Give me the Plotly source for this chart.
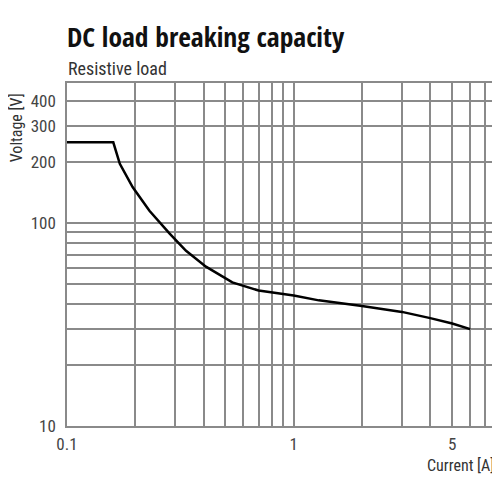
import plotly.graph_objects as go
import numpy as np

# curve
current = [0.1, 0.16, 0.171, 0.195, 0.231, 0.283, 0.335, 0.41, 0.536, 0.70, 1.0, 1.29, 2.0, 3.0, 4.0, 5.0, 6.0]
voltage = [250, 250, 196, 150, 115, 89, 73, 61, 51, 46.5, 44, 41.6, 39, 36.5, 34, 32, 30]

x_grid = [0.1, 0.2, 0.3, 0.4, 0.5, 0.6, 0.7, 0.8, 0.9, 1, 2, 3, 4, 5, 6, 7, 8]
x_labels = {0.1: "0.1", 1: "1", 5: "5"}
y_grid = [10, 20, 30, 40, 50, 60, 70, 80, 90, 100, 200, 300, 400]
y_labels = {10: "10", 100: "100", 200: "200", 300: "300", 400: "400"}

TitleFont = "Open Sans Condensed, Roboto Condensed, sans-serif"
FontName = "Roboto Condensed, sans-serif"
GridColor = "#8a8a8a"

fig = go.Figure()
fig.add_trace(go.Scatter(x=current, y=voltage, mode="lines",
                         line=dict(color="black", width=2.5),
                         hoverinfo="skip", showlegend=False))

fig.update_xaxes(type="log", range=[np.log10(0.1), np.log10(7.8)],
                 tickvals=x_grid, ticktext=[x_labels.get(v, "") for v in x_grid],
                 showgrid=True, gridcolor=GridColor, gridwidth=1.5,
                 showline=True, linecolor=GridColor, linewidth=1.5, mirror=True,
                 ticks="", zeroline=False, ticklabelstandoff=2,
                 tickfont=dict(family=FontName, size=17, color="#444"))
fig.update_yaxes(type="log", range=[1, np.log10(490)],
                 tickvals=y_grid, ticktext=[y_labels.get(v, "") for v in y_grid],
                 showgrid=True, gridcolor=GridColor, gridwidth=1.5,
                 showline=True, linecolor=GridColor, linewidth=1.5, mirror=True,
                 ticks="", zeroline=False, ticklabelstandoff=6,
                 tickfont=dict(family=FontName, size=17, color="#444"))

fig.add_annotation(text="<b>DC load breaking capacity</b>", xref="paper", yref="paper",
                   x=-0.005, y=(426 - 37) / 343, xanchor="left", yanchor="middle", showarrow=False,
                   font=dict(family=TitleFont, size=27.5, color="#111"))
fig.add_annotation(text="Resistive load", xref="paper", yref="paper",
                   x=-0.003, y=(426 - 69) / 343, xanchor="left", yanchor="middle", showarrow=False,
                   font=dict(family=FontName, size=18, color="#333"))
fig.add_annotation(text="Voltage [V]", xref="paper", yref="paper",
                   x=(16 - 67) / 431, y=(426 - 128) / 343, xanchor="center", yanchor="middle",
                   textangle=-90, showarrow=False,
                   font=dict(family=FontName, size=16, color="#333"))
fig.add_annotation(text="Current [A]", xref="paper", yref="paper",
                   x=(498 - 67) / 431, y=(426 - 465) / 343, xanchor="right", yanchor="middle",
                   showarrow=False,
                   font=dict(family=FontName, size=16, color="#333"))

# the page body adds 8px on the left and top, so the margins are shifted by that
fig.update_layout(width=500, height=500, plot_bgcolor="white", paper_bgcolor="white",
                  margin=dict(l=59, r=10, t=75, b=82))

fig.write_html("out.html")
